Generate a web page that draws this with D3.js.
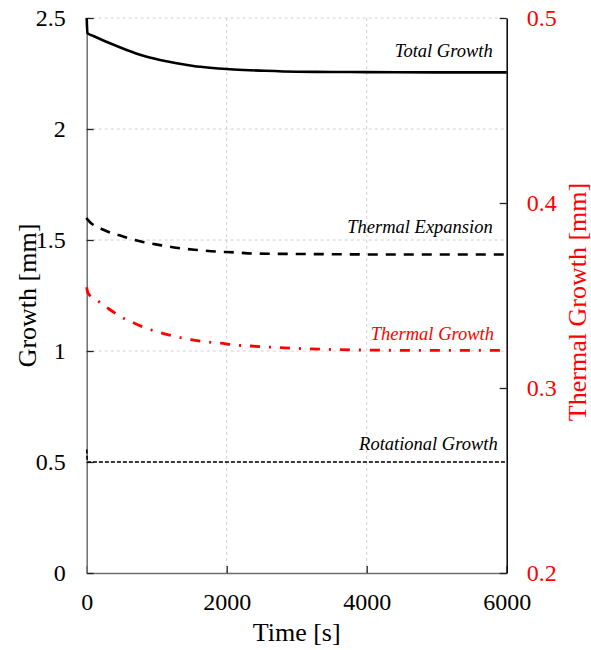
<!DOCTYPE html>
<html>
<head>
<meta charset="utf-8">
<script src="https://cdn.jsdelivr.net/npm/d3@7/dist/d3.min.js"></script>
<style>
  html, body { margin: 0; padding: 0; background: #fff; }
  svg { display: block; }
  text { font-family: "Liberation Serif", "Times New Roman", serif; }
</style>
</head>
<body>
<svg id="chart" width="591" height="650"></svg>
<script>
// Time samples [s] and growth values [mm] for each component
const totalTime   = [0, 10, 95, 333, 571, 810, 1047, 1286, 1524, 1761, 2000, 2238, 2476, 3000, 3500, 4000, 5000, 6000];
const totalGrowth = [2.50, 2.432, 2.419, 2.386, 2.356, 2.330, 2.311, 2.296, 2.284, 2.276, 2.270, 2.266, 2.263, 2.258, 2.257, 2.256, 2.255, 2.255];

const expTime      = [0, 10, 264, 519, 776, 1048, 1304, 1576, 1847, 2119, 2376, 3000, 3500, 4000, 5000, 6000];
const expansion    = [1.600, 1.593, 1.543, 1.516, 1.493, 1.477, 1.464, 1.455, 1.448, 1.444, 1.439, 1.437, 1.436, 1.435, 1.435, 1.435];

const thermTime    = [0, 20, 143, 319, 490, 683, 880, 1076, 1286, 1490, 1700, 1914, 2129, 2333, 3000, 3500, 4000, 5000, 6000];
const thermal      = [0.3544, 0.3512, 0.3476, 0.3427, 0.3385, 0.3350, 0.3319, 0.3297, 0.3277, 0.3261, 0.3250, 0.3242, 0.3232, 0.3227, 0.3214, 0.3208, 0.3205, 0.3203, 0.3203];

const rotTime      = [0, 10, 1000, 2000, 3000, 4000, 5000, 6000];
const rotational   = [0.556, 0.500, 0.500, 0.500, 0.500, 0.500, 0.500, 0.500];

const xTicks      = [0, 2000, 4000, 6000];
const leftTicks   = [0, 0.5, 1, 1.5, 2, 2.5];
const rightTicks  = [0.2, 0.3, 0.4, 0.5];

const svg = d3.select("#chart");
const plotL = 86.7, plotR = 506.7, plotT = 18, plotB = 573;

const x  = d3.scaleLinear().domain([0, 6000]).range([plotL, plotR]);
const yL = d3.scaleLinear().domain([0, 2.5]).range([plotB, plotT]);
const yR = d3.scaleLinear().domain([0.2, 0.5]).range([plotB, plotT]);

// grid
const grid = svg.append("g").attr("stroke", "#d0d0d0").attr("stroke-width", 1).attr("stroke-dasharray", "3,3");
grid.selectAll("line.h").data(leftTicks.filter(d => d > 0)).join("line")
  .attr("x1", plotL).attr("x2", plotR).attr("y1", d => yL(d)).attr("y2", d => yL(d));
grid.selectAll("line.v").data(xTicks.filter(d => d > 0 && d < 6000)).join("line")
  .attr("y1", plotT).attr("y2", plotB).attr("x1", d => x(d)).attr("x2", d => x(d));

function styleAxis(g, color, lineColor) {
  g.select(".domain").attr("stroke", lineColor).attr("stroke-width", 1.5);
  g.selectAll(".tick line").attr("stroke", "#222").attr("stroke-width", 1.3);
  g.selectAll(".tick text").attr("fill", color).attr("font-size", 24)
    .attr("font-family", "'Liberation Serif', 'Times New Roman', serif");
}

const fmt = d => d === 0 ? "0" : String(d);

svg.append("g").attr("transform", `translate(0,${plotB})`)
  .call(d3.axisBottom(x).tickValues(xTicks).tickFormat(fmt).tickSizeInner(-7).tickSizeOuter(0).tickPadding(20))
  .call(g => styleAxis(g, "#000", "#6e6e6e"));

svg.append("g").attr("transform", `translate(${plotL},0)`)
  .call(d3.axisLeft(yL).tickValues(leftTicks).tickFormat(fmt).tickSizeInner(-7).tickSizeOuter(0).tickPadding(21))
  .call(g => styleAxis(g, "#000", "#6e6e6e"));

svg.append("g").attr("transform", `translate(${plotR},0)`)
  .call(d3.axisRight(yR).tickValues(rightTicks).tickFormat(d3.format(".1f")).tickSizeInner(-7).tickSizeOuter(0).tickPadding(20))
  .call(g => styleAxis(g, "#ff0000", "#000"));

// series
function series(t, v, yScale, color, width, dash) {
  const pts = t.map((d, i) => [d, v[i]]);
  svg.append("path").datum(pts)
    .attr("fill", "none").attr("stroke", color).attr("stroke-width", width)
    .attr("stroke-dasharray", dash)
    .attr("d", d3.line().x(d => x(d[0])).y(d => yScale(d[1])).curve(d3.curveMonotoneX));
}
series(totalTime, totalGrowth, yL, "#000", 2.6, null);
series(expTime, expansion, yL, "#000", 2.6, "10,8");
series(thermTime, thermal, yR, "#ff0000", 2.8, "10,9,2,9");
series(rotTime, rotational, yL, "#000", 1.6, "4,2");

// series labels
const labels = [
  { text: "Total Growth", x: 492.7, y: 57, color: "#000" },
  { text: "Thermal Expansion", x: 492.7, y: 233, color: "#000" },
  { text: "Thermal Growth", x: 494, y: 340, color: "#ff0000" },
  { text: "Rotational Growth", x: 497.7, y: 450, color: "#000" }
];
svg.append("g").selectAll("text").data(labels).join("text")
  .attr("x", d => d.x).attr("y", d => d.y).attr("text-anchor", "end")
  .attr("font-style", "italic").attr("font-size", 18.5).attr("fill", d => d.color)
  .text(d => d.text);

// axis titles
svg.append("text").attr("x", (plotL + plotR) / 2).attr("y", 641).attr("text-anchor", "middle")
  .attr("font-size", 26).attr("fill", "#000").text("Time [s]");
svg.append("text").attr("transform", `translate(36,${(plotT + plotB) / 2}) rotate(-90)`)
  .attr("text-anchor", "middle").attr("font-size", 26).attr("fill", "#000").text("Growth [mm]");
svg.append("text").attr("transform", `translate(586,302) rotate(-90)`)
  .attr("text-anchor", "middle").attr("font-size", 26).attr("fill", "#ff0000").text("Thermal Growth [mm]");
</script>
</body>
</html>
